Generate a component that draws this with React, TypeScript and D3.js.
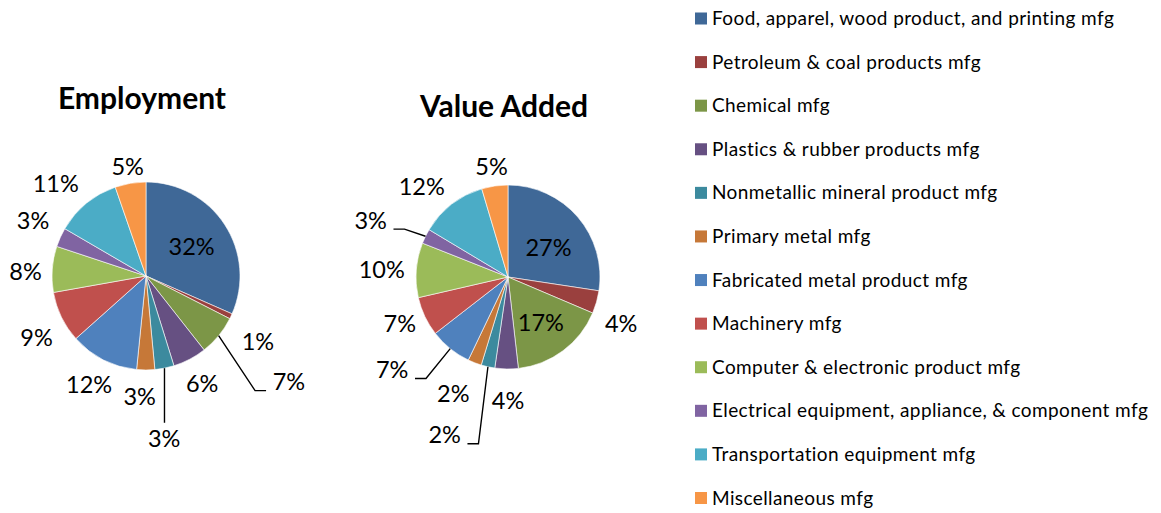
import React from "react";
import * as d3 from "d3";

const categories = [
  "Food, apparel, wood product, and printing mfg",
  "Petroleum & coal products mfg",
  "Chemical mfg",
  "Plastics & rubber products mfg",
  "Nonmetallic mineral product mfg",
  "Primary metal mfg",
  "Fabricated metal product mfg",
  "Machinery mfg",
  "Computer & electronic product mfg",
  "Electrical equipment, appliance, & component mfg",
  "Transportation equipment mfg",
  "Miscellaneous mfg",
];

const employmentValues = [31.6, 0.9, 6.9, 5.8, 3.3, 3.1, 11.8, 8.8, 7.9, 3.3, 11.3, 5.3];
const valueAddedValues = [27.4, 4.0, 16.8, 4.1, 2.4, 2.4, 7.4, 6.9, 9.6, 2.6, 11.8, 4.6];

const colors = [
  "#3F6897", "#9A403E", "#7C9647", "#665082", "#3C8A9E", "#C67838",
  "#4F81BD", "#C0504D", "#9BBB59", "#8064A2", "#4BACC6", "#F79646",
];

// label layout tweaks (relative nudges and leader-line style), not data
const employmentLayout = {
  nudges: [[0, 0], [1, 16], [48, 33], [-1, 6], [-6, 50], [-6, 6], [2, 7], [1, 12], [2, 4], [-1, -8], [-8, -4], [2, 3]],
  leaders: [null, null, "side", null, "below", null, null, null, null, null, null, null],
};
const valueAddedLayout = {
  nudges: [[0, 5], [-3, 16], [1, 3], [2, 11], [-37, 48], [-11, 12], [-40, 5], [1, -2], [1, 1], [-29, -7], [-8, -2], [1, 1]],
  leaders: [null, null, null, null, "side", null, "side", null, null, "side", null, null],
};

const FONT = "Lato, 'Open Sans', sans-serif";
const LABEL_FS = 23.5;

function estWidth(t: string) {
  return LABEL_FS * (0.58 * (t.length - 1) + 0.85);
}

function PieChart(props: {
  cx: number; cy: number; r: number; values: number[]; title: string;
  titleY: number; layout: { nudges: number[][]; leaders: (string | null)[] };
}) {
  const { cx, cy, r, values, title, titleY, layout } = props;
  const arcs = d3.pie<number>().sort(null).value((d) => d)(values);
  const arcGen = d3.arc<d3.PieArcDatum<number>>().innerRadius(0).outerRadius(r);
  const total = d3.sum(values);
  const h = LABEL_FS * 0.72;
  const g = 12;

  return (
    <g>
      <text x={cx - 4} y={titleY} textAnchor="middle" fontFamily={FONT} fontWeight="bold" fontSize={30} fill="#000">
        {title}
      </text>
      <g transform={`translate(${cx},${cy})`}>
        {arcs.map((a, i) => (
          <path key={i} d={arcGen(a) || ""} fill={colors[i]} stroke="#fff" strokeWidth={0.6} />
        ))}
      </g>
      {arcs.map((a, i) => {
        const pct = Math.round((a.data / total) * 100);
        const txt = `${pct}%`;
        const w = estWidth(txt);
        const mid = (a.startAngle + a.endAngle) / 2;
        const s = Math.sin(mid);
        const c = -Math.cos(mid);
        const inside = a.data / total > 0.15;
        let x: number, y: number;
        if (inside) {
          x = cx + 0.58 * r * s;
          y = cy + 0.58 * r * c;
        } else {
          x = cx + (r + g) * s + (s * w) / 2;
          y = cy + (r + g) * c + (c * h) / 2;
        }
        x += layout.nudges[i][0];
        y += layout.nudges[i][1];
        const leader = layout.leaders[i];
        let path: string | null = null;
        if (leader) {
          const sx = cx + r * s;
          const sy = cy + r * c;
          if (leader === "below") {
            path = `M${sx},${sy}L${sx},${y - h / 2 - 7}`;
          } else {
            const dir = x > cx ? -1 : 1; // toward pie
            const ex = x + dir * (w / 2 + 6);
            const ey = y + h / 2 + 0.5;
            const bx = ex + dir * 11;
            path = `M${sx},${sy}L${bx},${ey}L${ex},${ey}`;
          }
        }
        return (
          <g key={i}>
            {path && <path d={path} fill="none" stroke="#000" strokeWidth={1.4} />}
            <text x={x} y={y + LABEL_FS * 0.36} textAnchor="middle" fontFamily={FONT} fontSize={LABEL_FS} fill="#000">
              {txt}
            </text>
          </g>
        );
      })}
    </g>
  );
}

export default function App() {
  const legendY = d3.scaleLinear().domain([0, 11]).range([18.5, 498]);
  return (
    <svg width={1161} height={513} style={{ position: "absolute", left: 0, top: 0, background: "#fff" }}>
      <rect width={1161} height={513} fill="#fff" />
      <PieChart cx={146} cy={276} r={94} values={employmentValues} title="Employment" titleY={109} layout={employmentLayout} />
      <PieChart cx={508} cy={277} r={92} values={valueAddedValues} title="Value Added" titleY={117} layout={valueAddedLayout} />
      <g>
        {categories.map((cat, i) => (
          <g key={i} transform={`translate(695,${legendY(i)})`}>
            <rect x={0} y={-6} width={12} height={12} fill={colors[i]} />
            <text x={17} y={6.5} fontFamily={FONT} fontSize={19} letterSpacing={0.4} fill="#000">
              {cat}
            </text>
          </g>
        ))}
      </g>
    </svg>
  );
}
